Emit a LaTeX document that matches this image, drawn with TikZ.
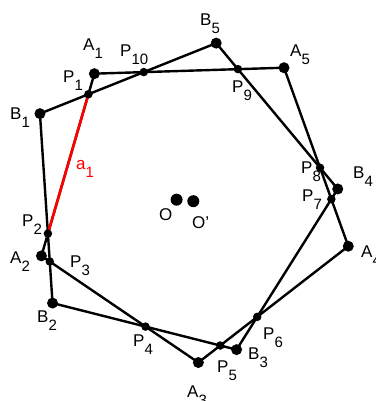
\documentclass[tikz,border=0pt]{standalone}
\usepackage{fontspec}
\setmainfont{Liberation Sans}
\usepackage{tikz}
\usetikzlibrary{calc}

\newcommand{\sublbl}[1]{\raisebox{-8pt}{\fontsize{15}{15}\selectfont #1}}

\begin{document}
\begin{tikzpicture}[x=1pt, y=1pt,
  edge/.style={line width=2.4pt, line join=round},
  chord/.style={red, line width=2.6pt},
  vertex/.style={circle, fill=black, inner sep=0pt, minimum size=11pt},
  cross/.style={circle, fill=black, inner sep=0pt, minimum size=8.5pt},
  centre/.style={circle, fill=black, inner sep=0pt, minimum size=12pt},
  lbl/.style={anchor=base west, inner sep=0pt, font=\fontsize{17}{17}\selectfont}
]
  \useasboundingbox (0,0) rectangle (375,401);

  % Centres of the two pentagons
  \coordinate (Oa) at (193.3,199.8);
  \coordinate (Ob) at (176.6,201.3);

  % Vertices
  \foreach \k in {1,...,5} {
    \coordinate (A\k) at ($(Oa)+({127.8+72*(\k-1)}:161.4)$);
    \coordinate (B\k) at ($(Ob)+({147.8+72*(\k-1)}:161.5)$);
  }

  % Crossings of the sides
  \coordinate (P1) at (intersection of A1--A2 and B1--B5);
  \coordinate (P2) at (intersection of A1--A2 and B1--B2);
  \coordinate (P3) at (intersection of A2--A3 and B1--B2);
  \coordinate (P4) at (intersection of A2--A3 and B2--B3);
  \coordinate (P5) at (intersection of A3--A4 and B2--B3);
  \coordinate (P6) at (intersection of A3--A4 and B3--B4);
  \coordinate (P7) at (intersection of A4--A5 and B3--B4);
  \coordinate (P8) at (intersection of A4--A5 and B4--B5);
  \coordinate (P9) at (intersection of A5--A1 and B4--B5);
  \coordinate (P10) at (intersection of A5--A1 and B5--B1);

  % Sides
  \draw[edge] (A1) -- (A2) -- (A3) -- (A4) -- (A5) -- cycle;
  \draw[edge] (B1) -- (B2) -- (B3) -- (B4) -- (B5) -- cycle;
  \draw[chord] (P2) -- (P1);

  % Points
  \foreach \k in {1,...,5} {
    \node[vertex] (dA\k) at (A\k) {};
    \node[vertex] (dB\k) at (B\k) {};
  }
  \foreach \k in {1,...,10} \node[cross] (dP\k) at (P\k) {};
  \node[centre] (dO) at (Ob) {};
  \node[centre] (dOp) at (Oa) {};

  % Labels
  \node[lbl] (lA1) at (83,350) {A\sublbl{1}};
  \node[lbl] (lA2) at (10,137) {A\sublbl{2}};
  \node[lbl] (lA3) at (187,3.5) {A\sublbl{3}};
  \node[lbl] (lA4) at (361,143) {A\sublbl{4}};
  \node[lbl] (lA5) at (290,344) {A\sublbl{5}};
  \node[lbl] (lB1) at (10,281) {B\sublbl{1}};
  \node[lbl] (lB2) at (37,78) {B\sublbl{2}};
  \node[lbl] (lB3) at (248,41) {B\sublbl{3}};
  \node[lbl] (lB4) at (353,222) {B\sublbl{4}};
  \node[lbl] (lB5) at (200,375) {B\sublbl{5}};
  \node[lbl] (lP1) at (63,318) {P\sublbl{1}};
  \node[lbl] (lP2) at (22,174) {P\sublbl{2}};
  \node[lbl] (lP3) at (70,133) {P\sublbl{3}};
  \node[lbl] (lP4) at (133,54) {P\sublbl{4}};
  \node[lbl] (lP5) at (217,28) {P\sublbl{5}};
  \node[lbl] (lP6) at (263,61) {P\sublbl{6}};
  \node[lbl] (lP7) at (302,199) {P\sublbl{7}};
  \node[lbl] (lP8) at (301,227) {P\sublbl{8}};
  \node[lbl] (lP9) at (232,308) {P\sublbl{9}};
  \node[lbl] (lP10) at (120,344.5) {P\sublbl{10}};
  \node[lbl, text=red] (la1) at (76,231) {a\sublbl{1}};
  \node[lbl] (lO) at (159,180) {O};
  \node[lbl] (lOp) at (192,172) {O'};
\end{tikzpicture}
\end{document}
